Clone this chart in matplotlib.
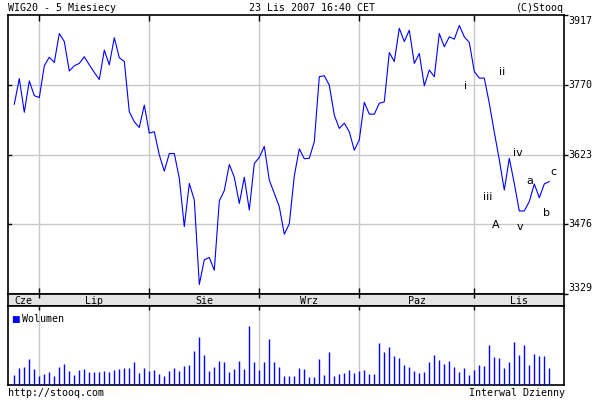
import matplotlib
matplotlib.use("Agg")
import matplotlib.pyplot as plt
import numpy as np

# ---- data ----
close = [3729, 3783, 3712, 3778, 3747, 3743, 3810, 3828, 3817, 3878,
         3861, 3799, 3810, 3815, 3829, 3812, 3796, 3781, 3843, 3812,
         3869, 3827, 3819, 3713, 3692, 3680, 3727, 3668, 3671, 3622,
         3588, 3625, 3625, 3573, 3471, 3562, 3527, 3349, 3401, 3406,
         3379, 3525, 3547, 3602, 3575, 3520, 3575, 3506, 3604, 3617,
         3640, 3569, 3541, 3513, 3455, 3477, 3578, 3635, 3614, 3615,
         3650, 3787, 3789, 3769, 3706, 3678, 3689, 3671, 3632, 3654,
         3733, 3708, 3708, 3731, 3734, 3838, 3819, 3889, 3861, 3885,
         3815, 3836, 3768, 3801, 3787, 3878, 3850, 3871, 3866, 3895,
         3871, 3859, 3798, 3784, 3784, 3731, 3670, 3612, 3548, 3615,
         3562, 3504, 3504, 3524, 3561, 3532, 3561, 3566]

volume = [31, 51, 54, 78, 48, 27, 33, 39, 27, 54,
          63, 42, 30, 45, 48, 39, 39, 39, 42, 39,
          45, 48, 51, 51, 69, 36, 51, 42, 45, 33,
          27, 42, 51, 42, 57, 60, 102, 144, 90, 42,
          54, 72, 69, 39, 48, 72, 48, 177, 69, 45,
          69, 138, 69, 54, 27, 27, 27, 51, 48, 24,
          24, 78, 30, 99, 27, 33, 36, 45, 36, 42,
          45, 33, 33, 126, 99, 114, 87, 81, 60, 54,
          42, 36, 39, 69, 90, 75, 63, 72, 54, 39,
          51, 30, 45, 60, 57, 120, 84, 81, 51, 69,
          129, 90, 120, 60, 93, 87, 87, 51]

month_starts = [5, 27, 49, 69, 92]
month_labels = ["Cze", "Lip", "Sie", "Wrz", "Paz", "Lis"]
price_ticks = [3917, 3770, 3623, 3476, 3329]

wave_labels = ["i", "ii", "iii", "iv", "v", "A", "a", "b", "c"]
wave_x = [90.3, 97.5, 94.7, 100.7, 101.1, 96.3, 103.1, 106.5, 107.9]
wave_y = [3767, 3797, 3533, 3626, 3470, 3474, 3567, 3500, 3586]

# ---- layout ----
W, H = 600, 400
fig = plt.figure(figsize=(6, 4), dpi=100)
fig.patch.set_facecolor("white")

def frac(x0, y0, x1, y1):
    return [x0 / W, 1 - y1 / H, (x1 - x0) / W, (y1 - y0) / H]

LEFT, RIGHT = 8, 564
x = np.arange(len(close))
xmin = (LEFT - 14.3) / 5.0
xmax = (RIGHT - 14.3) / 5.0
mono = "DejaVu Sans Mono"
fs = 7.2
grid_c = "#c8c8c8"
blue = "#0000ff"

ax = fig.add_axes(frac(LEFT, 15, RIGHT, 294))
axd = fig.add_axes(frac(LEFT, 294, RIGHT, 306))
axv = fig.add_axes(frac(LEFT, 306, RIGHT, 385))

# price panel
ax.set_xlim(xmin, xmax)
ax.set_ylim(price_ticks[-1], price_ticks[0])
for m in month_starts:
    ax.axvline(m, color=grid_c, lw=1, zorder=0)
for t in price_ticks[1:-1]:
    ax.axhline(t, color=grid_c, lw=1, zorder=0)
ax.plot(x, close, color=blue, lw=0.8, zorder=3)
ax.set_xticks(month_starts)
ax.set_xticklabels([])
ax.tick_params(axis="x", which="both", direction="in", length=4, width=1,
               top=True, bottom=True, color="black")
ax.set_yticks(price_ticks)
ax.yaxis.tick_right()
ax.set_yticklabels([])
ax.tick_params(axis="y", direction="out", length=3, width=1, right=True, left=False)
for t in price_ticks[1:-1]:
    ax.plot([xmin, xmin + 0.6], [t, t], color="black", lw=1, clip_on=False, zorder=4)
for s in ax.spines.values():
    s.set_linewidth(1.2)

# right-hand price labels
for t in price_ticks:
    yy = t
    va = "center"
    if t == price_ticks[0]:
        va = "top"
        yy = t - 2
    elif t == price_ticks[-1]:
        va = "bottom"
        yy = t + 2
    ax.text(1.008, (yy - price_ticks[-1]) / (price_ticks[0] - price_ticks[-1]), str(t),
            transform=ax.transAxes, ha="left", va=va, fontsize=fs, family=mono)

# Elliott wave labels
for lab, wx, wy in zip(wave_labels, wave_x, wave_y):
    ax.text(wx, wy, lab, ha="center", va="center", fontsize=8,
            family="DejaVu Sans", color="black", zorder=5)

# date strip
axd.set_facecolor("#e4e4e4")
axd.set_xlim(xmin, xmax)
axd.set_ylim(0, 1)
axd.set_xticks(month_starts)
axd.set_xticklabels([])
axd.tick_params(axis="x", direction="in", length=3, width=1, top=True, bottom=False)
axd.set_yticks([])
bounds = [xmin] + month_starts + [xmax]
for i, lab in enumerate(month_labels):
    c = (bounds[i] + bounds[i + 1]) / 2.0
    axd.text(c, 0.45, lab, ha="center", va="center", fontsize=fs, family=mono)
for s in axd.spines.values():
    s.set_linewidth(1.2)

# volume panel
axv.set_xlim(xmin, xmax)
axv.set_ylim(0, 237)
for m in month_starts:
    axv.axvline(m, color=grid_c, lw=1, zorder=0)
axv.vlines(x, 0, volume, color=blue, lw=1.0, zorder=3)
axv.set_xticks(month_starts)
axv.set_xticklabels([])
axv.tick_params(axis="x", direction="in", length=3, width=1, top=True, bottom=False)
axv.set_yticks([])
for s in axv.spines.values():
    s.set_linewidth(1.2)
axv.text(0.005, 0.83, "\u25A0", transform=axv.transAxes, ha="left", va="center",
         fontsize=6.5, color=blue, family="DejaVu Sans")
axv.text(0.025, 0.84, "Wolumen", transform=axv.transAxes, ha="left", va="center",
         fontsize=fs, family=mono)

# header / footer texts
fig.text(8 / W, 1 - 8 / H, "WIG20 - 5 Miesiecy", ha="left", va="center", fontsize=fs, family=mono)
fig.text(312 / W, 1 - 8 / H, "23 Lis 2007 16:40 CET", ha="center", va="center", fontsize=fs, family=mono)
fig.text(564 / W, 1 - 8 / H, "(C)Stooq", ha="right", va="center", fontsize=fs, family=mono)
fig.text(8 / W, 1 - 393 / H, "http://stooq.com", ha="left", va="center", fontsize=fs, family=mono)
fig.text(565 / W, 1 - 393 / H, "Interwal Dzienny", ha="right", va="center", fontsize=fs, family=mono)

fig.savefig("out.png", dpi=100, facecolor="white")
